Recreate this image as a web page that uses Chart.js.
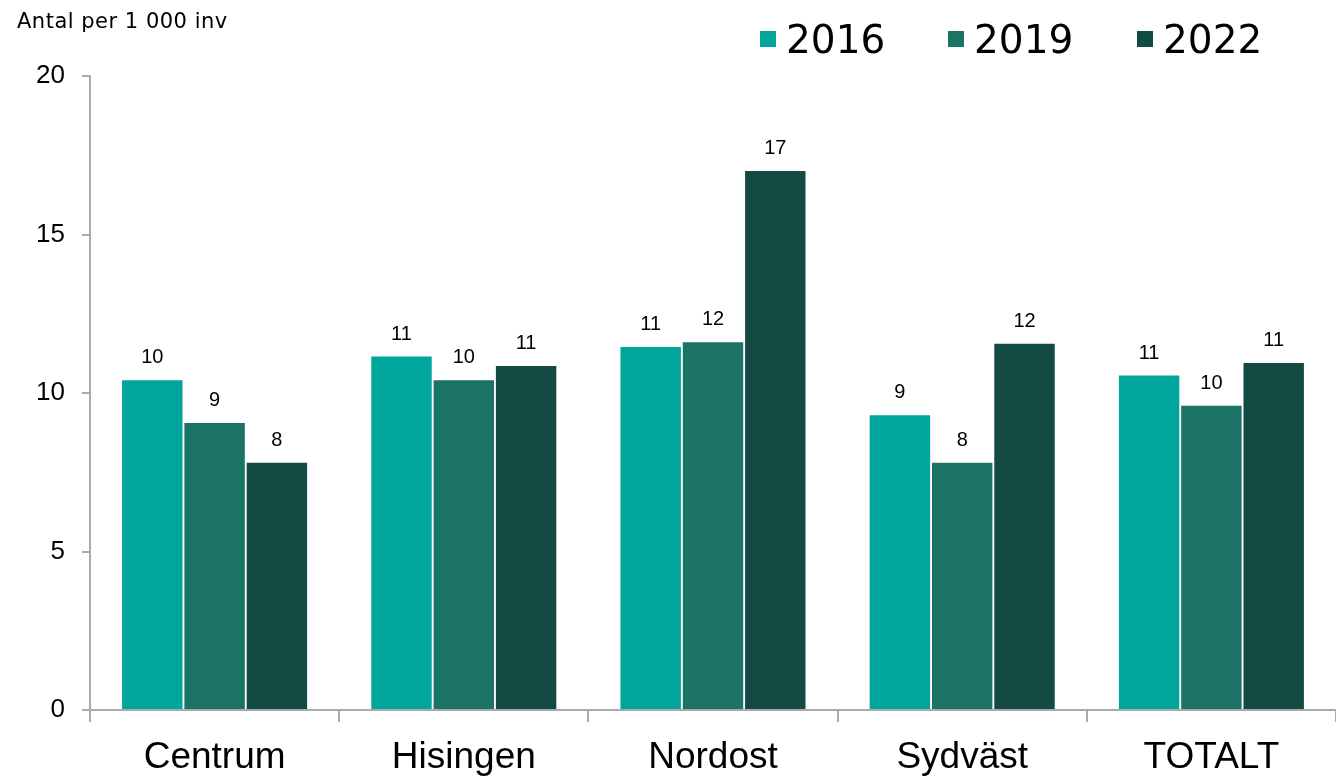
<!DOCTYPE html>
<html>
<head>
<meta charset="utf-8">
<script src="https://cdn.jsdelivr.net/npm/chart.js@4"></script>
<style>
  html, body { margin: 0; padding: 0; background: #fff; }
  #wrap { width: 1336px; height: 777px; position: relative; }
</style>
</head>
<body>
<div id="wrap"><canvas id="chart"></canvas></div>
<script>
const categories = ['Centrum', 'Hisingen', 'Nordost', 'Sydväst', 'TOTALT'];
const years = ['2016', '2019', '2022'];
const values2016 = [10.4, 11.15, 11.45, 9.3, 10.55];
const values2019 = [9.05, 10.4, 11.6, 7.8, 9.6];
const values2022 = [7.8, 10.85, 17.0, 11.55, 10.95];
const yTicks = [0, 5, 10, 15, 20];
const colors = ['#00a59b', '#1b7366', '#134b44'];
const yTitle = 'Antal per 1 000 inv';

const FONT = "'Liberation Sans', Arial, sans-serif";
const WIDE = "'DejaVu Sans', sans-serif";

// value labels above bars, rounded like the original
const barLabels = {
  id: 'barLabels',
  afterDatasetsDraw(chart) {
    const ctx = chart.ctx;
    ctx.save();
    ctx.font = `20px ${FONT}`;
    ctx.fillStyle = '#000';
    ctx.textAlign = 'center';
    ctx.textBaseline = 'alphabetic';
    chart.data.datasets.forEach((ds, i) => {
      chart.getDatasetMeta(i).data.forEach((bar, j) => {
        ctx.fillText(Math.round(ds.data[j]), bar.x, bar.y - 17);
      });
    });
    ctx.restore();
  }
};

// axis title top-left and legend top-right
const extras = {
  id: 'extras',
  afterDraw(chart) {
    const ctx = chart.ctx;
    ctx.save();
    ctx.fillStyle = '#000';
    ctx.textAlign = 'left';
    ctx.textBaseline = 'alphabetic';
    ctx.font = `21px ${WIDE}`;
    ctx.letterSpacing = '0.5px';
    ctx.fillText(yTitle, 17, 28);
    ctx.letterSpacing = '0px';

    const xs = [760, 948, 1137];
    ctx.font = `39px ${WIDE}`;
    chart.data.datasets.forEach((ds, i) => {
      ctx.fillStyle = ds.backgroundColor;
      ctx.fillRect(xs[i], 31, 16, 16);
      ctx.fillStyle = '#000';
      ctx.fillText(ds.label, xs[i] + 26, 53);
    });
    ctx.restore();
  }
};

new Chart(document.getElementById('chart'), {
  type: 'bar',
  data: {
    labels: categories,
    datasets: [
      { label: years[0], data: values2016, backgroundColor: colors[0] },
      { label: years[1], data: values2019, backgroundColor: colors[1] },
      { label: years[2], data: values2022, backgroundColor: colors[2] }
    ]
  },
  options: {
    responsive: true,
    maintainAspectRatio: false,
    animation: false,
    layout: { padding: { top: 76, right: 0, left: 0, bottom: 0 } },
    datasets: {
      bar: { categoryPercentage: 0.75, barPercentage: 0.97 }
    },
    plugins: {
      legend: { display: false },
      tooltip: { enabled: false }
    },
    scales: {
      x: {
        offset: true,
        grid: { offset: true, drawOnChartArea: false, drawTicks: true, tickLength: 12, color: '#aaaaaa', lineWidth: 2 },
        border: { display: true, color: '#aaaaaa', width: 2 },
        ticks: { color: '#000', font: { family: FONT, size: 37 }, padding: 14 },
        afterFit: (s) => { s.height = 67; }
      },
      y: {
        min: 0,
        max: 20,
        afterBuildTicks: (s) => { s.ticks = yTicks.map(v => ({ value: v })); },
        grid: { drawOnChartArea: false, drawTicks: true, tickLength: 8, color: '#aaaaaa', lineWidth: 2 },
        border: { display: true, color: '#aaaaaa', width: 2 },
        ticks: { color: '#000', font: { family: FONT, size: 26 }, padding: 17 },
        afterFit: (s) => { s.width = 90; }
      }
    }
  },
  plugins: [barLabels, extras]
});
</script>
</body>
</html>
